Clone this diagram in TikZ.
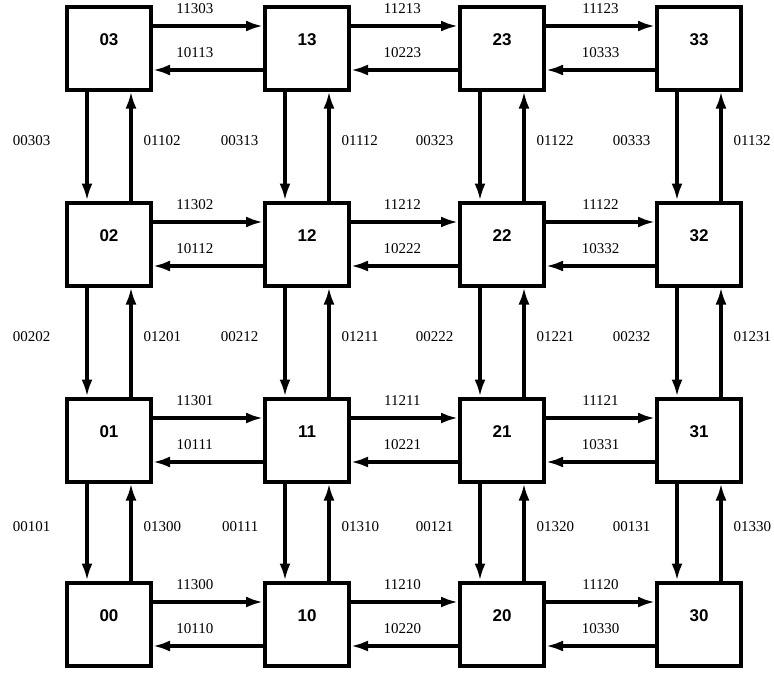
\documentclass[tikz,border=0pt]{standalone}
\usepackage{fontspec}
\setmainfont{Liberation Serif}
\newfontfamily\cellfont{Liberation Sans}
\usetikzlibrary{arrows.meta,positioning,calc}

\begin{document}
\begin{tikzpicture}[x=1pt,y=-1pt,
    cell/.style={draw, line width=4pt, minimum width=84pt, minimum height=83pt, inner sep=0pt},
    cellname/.style={font=\cellfont\bfseries\fontsize{17}{17}\selectfont, yshift=8pt},
    link/.style={line width=3.2pt, -{Latex[length=17pt,width=11pt]}},
    tag/.style={font=\fontsize{15}{15}\selectfont, inner sep=1pt}]

    \useasboundingbox (0,0) rectangle (774,673);

    % Boxes
    \foreach \i/\x in {0/109,1/307,2/502,3/699}
        \foreach \j/\y in {0/624,1/440,2/244,3/48}
            \node[cell, label={[cellname]center:\i\j}] (b\i\j) at (\x,\y) {};

    % Horizontal links
    \foreach \j in {0,...,3}
        \foreach \i/\p in {0/0.38,1/0.48,2/0.5} {
            \pgfmathtruncatemacro\n{\i+1}
            \pgfmathtruncatemacro\r{3-\i}
            \pgfmathsetmacro\q{1-\p}
            \draw[link] ([yshift=22pt]b\i\j.east) -- ([yshift=22pt]b\n\j.west)
                node[tag, pos=\p, above=10pt] {11\r\i\j};
            \draw[link] ([yshift=-22pt]b\n\j.west) -- ([yshift=-22pt]b\i\j.east)
                node[tag, pos=\q, above=10pt] {10\n\n\j};
        }

    % Vertical links
    \foreach \i/\d in {0/34pt,1/24pt,2/24pt,3/24pt}
        \foreach \j in {1,2,3} {
            \pgfmathtruncatemacro\k{\j-1}
            \pgfmathtruncatemacro\m{4-\j}
            \draw[link] ([xshift=-22pt]b\i\j.south) -- ([xshift=-22pt]b\i\k.north)
                node[tag, midway, left=\d, yshift=5pt] {00\j\i\j};
            \draw[link] ([xshift=22pt]b\i\k.north) -- ([xshift=22pt]b\i\j.south)
                node[tag, midway, right=10pt, yshift=5pt] {01\m\i\k};
        }
\end{tikzpicture}
\end{document}
